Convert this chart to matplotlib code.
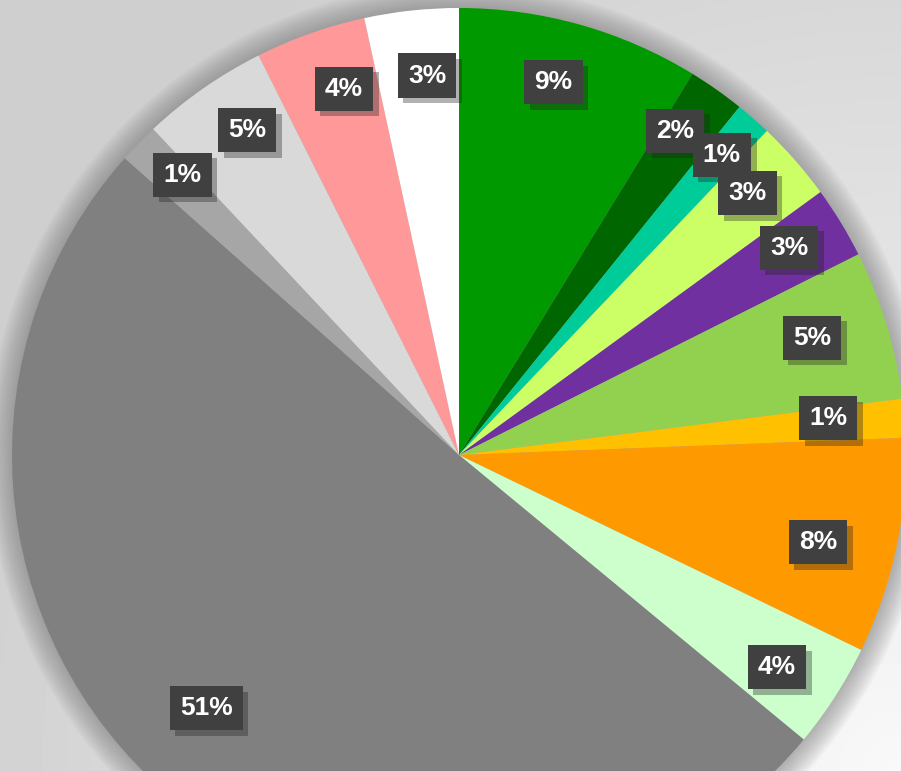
import numpy as np
import matplotlib.pyplot as plt
import matplotlib.patheffects as pe
from matplotlib.patches import Circle

# slice shares, clockwise from 12 o'clock
values = [8.75, 2.05, 1.3, 2.9, 2.6, 5.4, 1.4, 7.8, 3.8, 50.6, 1.45, 4.6, 4.0, 3.4]
colors = ['#009900', '#006600', '#00cc99', '#ccff66', '#7030a0', '#92d050',
          '#ffc000', '#ff9900', '#ccffcc', '#808080', '#a6a6a6', '#d9d9d9',
          '#ff9999', '#ffffff']
# label placement: share of the radius, and clockwise nudge in degrees
label_dist = [0.86, 0.872, 0.893, 0.872, 0.872, 0.832, 0.83, 0.826, 0.855, 0.80, 0.881, 0.868, 0.859, 0.852]
label_shift = [-1.5, -1.5, 0, -1, -0.8, -1.4, -1, 1.8, 1, 4.4, 1.2, 1.8, 2, 1.3]

W, H = 901, 771
cx, cy, R = 459, H - 455, 447

fig = plt.figure(figsize=(W / 100, H / 100), dpi=100)
ax = fig.add_axes([0, 0, 1, 1])

# background: light grey gradient, brightest towards top right
yy, xx = np.mgrid[0:H, 0:W]
d = np.hypot((xx - 900) / 900, (yy - 0) / 900)
bg = 0.975 - 0.15 * np.clip(d, 0, 1.1)
ax.imshow(bg, cmap='gray', vmin=0, vmax=1, extent=(0, W, H, 0), zorder=0)

# soft halo round the pie
for i in range(14):
    ax.add_patch(Circle((cx, cy), R + 24 - i * 1.7, color='#707070',
                        alpha=0.045, lw=0, zorder=1))

wedges, _ = ax.pie(values, colors=colors, startangle=90, counterclock=False,
                   center=(cx, cy), radius=R, wedgeprops=dict(linewidth=0),
                   frame=True)
ax.set_xlim(0, W)
ax.set_ylim(0, H)
ax.set_aspect('equal')
ax.axis('off')

total = sum(values)
for w, v, f, s in zip(wedges, values, label_dist, label_shift):
    w.set_zorder(2)
    ang = np.deg2rad((w.theta1 + w.theta2) / 2 - s)
    t = ax.text(cx + f * R * np.cos(ang), cy + f * R * np.sin(ang),
                '%1.0f%%' % (100 * v / total), ha='center', va='center',
                color='white', fontsize=19, fontweight='bold',
                family='Liberation Sans', zorder=3)
    t.set_bbox(dict(boxstyle='square,pad=0.38', fc='#404040', ec='none'))
    t.get_bbox_patch().set_path_effects(
        [pe.SimplePatchShadow(offset=(4, -4), shadow_rgbFace='#202020', alpha=0.35),
         pe.Normal()])

fig.savefig('out.png', dpi=100)
